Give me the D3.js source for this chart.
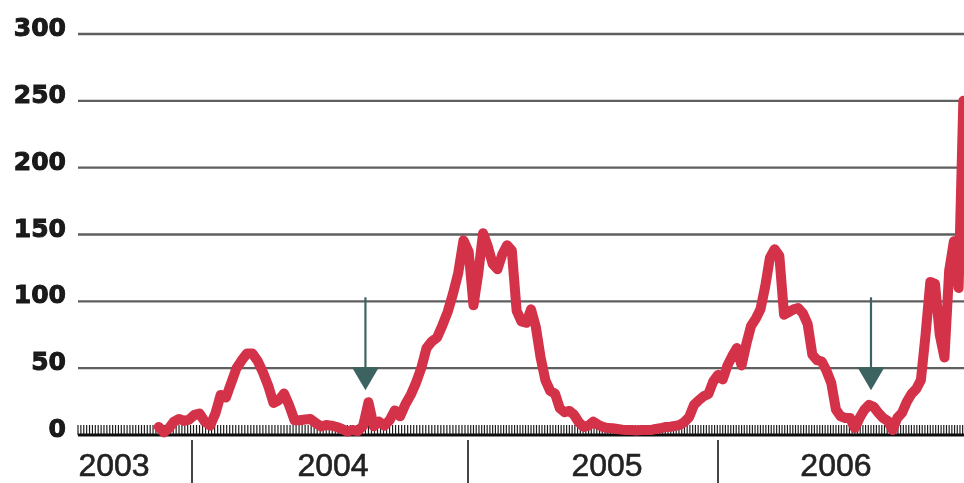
<!DOCTYPE html>
<html><head><meta charset="utf-8">
<script src="https://cdn.jsdelivr.net/npm/d3@7"></script>
<style>html,body{margin:0;padding:0;background:#fff;overflow:hidden}</style>
</head><body>
<svg id="chart" width="964" height="483"></svg>
<script>
// ---- data ----
const seriesStart = "2003-11-16"; // first weekly observation
const values2003 = [6, 2, 5, 10, 12, 10.5, 11.5];
const values2004 = [15, 16, 10, 7, 16, 30, 28, 39, 50, 56, 61, 61, 55.5, 47, 37, 24, 26, 31, 22, 11,
  11, 11.6, 12, 9, 6.4, 7.5, 7, 6, 4.5, 2.6, 3.7, 3, 7, 24.5, 6.5, 10, 7, 11, 18.4, 14,
  23, 30, 39, 50, 65, 70, 73, 82, 92, 105.5, 121, 145.6];
const values2005 = [137, 97, 121, 151, 141, 128, 124, 135, 142, 138, 93, 85, 84, 94, 81, 58, 41, 33, 31, 20,
  17, 18, 15, 9.4, 6, 7, 10, 7.7, 6, 5.2, 5, 4.5, 4, 3.7, 3.7, 3.4, 3.7, 3.7, 3.7, 4.5,
  5, 6, 6.2, 6.7, 7.5, 9.7, 13.5, 22.5, 26, 29, 30.7, 40];
const values2006 = [45, 41.5, 52, 59, 65, 52, 68, 81.6, 87, 94, 111, 132.5, 139, 134, 90, 92, 94, 95, 91, 83,
  60, 56, 55, 48, 39, 19, 14, 12.7, 12.7, 5.2, 12.7, 18.7, 22.5, 21, 16.5, 12.7, 10.5, 3.7, 12.7, 16.5,
  24.7, 30.7, 34.4, 41, 75, 114.5, 113, 75, 58, 123, 145, 110, 250];
const yTickValues = [0, 50, 100, 150, 200, 250, 300];
const yearLabels = ["2003", "2004", "2005", "2006"];
const yearLabelDates = ["2003-09-15", "2004-07-06", "2005-07-23", "2006-06-25"];
const yearBoundaries = ["2004-01-01", "2005-01-01", "2006-01-01"];
const arrowDates = ["2004-08-18", "2006-08-16"];
const arrowFromValue = 103;
const arrowToValue = 33.5;

// ---- setup ----
const parse = d3.utcParse("%Y-%m-%d");
const allValues = [].concat(values2003, values2004, values2005, values2006);
const t0 = parse(seriesStart);
const data = allValues.map((v, i) => ({date: d3.utcDay.offset(t0, 7 * i), value: v}));

const svg = d3.select("#chart");
const defs = svg.append("defs");
defs.append("filter").attr("id", "soft").attr("x", "-5%").attr("y", "-5%").attr("width", "110%").attr("height", "110%")
  .append("feGaussianBlur").attr("stdDeviation", 0.55);

const x = d3.scaleUtc()
  .domain([parse("2003-07-27"), parse("2004-01-01"), parse("2005-01-01"), parse("2006-01-01"), parse("2007-01-01")])
  .range([78, 192, 468, 718, 964]);
const y = d3.scaleLinear().domain([0, 300]).range([435, 34]);

const g = svg.append("g").attr("filter", "url(#soft)");

// gridlines
g.append("g").selectAll("line").data(yTickValues.filter(d => d > 0)).join("line")
  .attr("x1", 78).attr("x2", 964)
  .attr("y1", d => y(d)).attr("y2", d => y(d))
  .attr("stroke", "#5e5e5e").attr("stroke-width", 2.4);

// y labels
g.append("g").selectAll("text").data(yTickValues).join("text")
  .attr("x", 66).attr("y", d => y(d) + 2)
  .attr("text-anchor", "end")
  .attr("font-family", "'DejaVu Sans', sans-serif")
  .attr("font-weight", "bold").attr("font-size", 25)
  .attr("fill", "#1a1a1a")
  .attr("stroke", "#1a1a1a").attr("stroke-width", 1)
  .text(d => d);

// minor ticks along baseline
const tickDates = d3.utcDay.range(x.domain()[0], x.domain()[4], 4);
g.append("g").selectAll("line").data(tickDates).join("line")
  .attr("x1", d => x(d)).attr("x2", d => x(d))
  .attr("y1", y(0) - 10).attr("y2", y(0))
  .attr("stroke", "#1e1e1e").attr("stroke-width", 1.2);

// baseline
g.append("line").attr("x1", 78).attr("x2", 964).attr("y1", y(0)).attr("y2", y(0))
  .attr("stroke", "#111").attr("stroke-width", 3);

// year separators
g.append("g").selectAll("line").data(yearBoundaries.map(parse)).join("line")
  .attr("x1", d => x(d)).attr("x2", d => x(d))
  .attr("y1", 440).attr("y2", 483)
  .attr("stroke", "#444").attr("stroke-width", 2);

// year labels
g.append("g").selectAll("text").data(yearLabels).join("text")
  .attr("x", (d, i) => x(parse(yearLabelDates[i])))
  .attr("y", 476)
  .attr("text-anchor", "middle")
  .attr("font-family", "'Liberation Sans', Arial, sans-serif")
  .attr("font-size", 32)
  .attr("fill", "#222")
  .attr("stroke", "#222").attr("stroke-width", 0.6)
  .text(d => d);

// arrows
const arrows = g.append("g").selectAll("g").data(arrowDates.map(parse)).join("g");
const headH = 23, headW = 13.5;
arrows.append("line")
  .attr("x1", d => x(d)).attr("x2", d => x(d))
  .attr("y1", y(arrowFromValue)).attr("y2", y(arrowToValue) - headH + 2)
  .attr("stroke", "#3e6461").attr("stroke-width", 2.2);
arrows.append("path")
  .attr("d", d => {
    const cx = x(d), tip = y(arrowToValue);
    return `M${cx - headW},${tip - headH}L${cx + headW},${tip - headH}L${cx},${tip}Z`;
  })
  .attr("fill", "#3e6461");

// main line
const line = d3.line().x(d => x(d.date)).y(d => y(d.value)).curve(d3.curveLinear);
g.append("path").datum(data)
  .attr("d", line)
  .attr("fill", "none")
  .attr("stroke", "#d3304a")
  .attr("stroke-width", 10)
  .attr("stroke-linejoin", "round")
  .attr("stroke-linecap", "round");
</script>
</body></html>
